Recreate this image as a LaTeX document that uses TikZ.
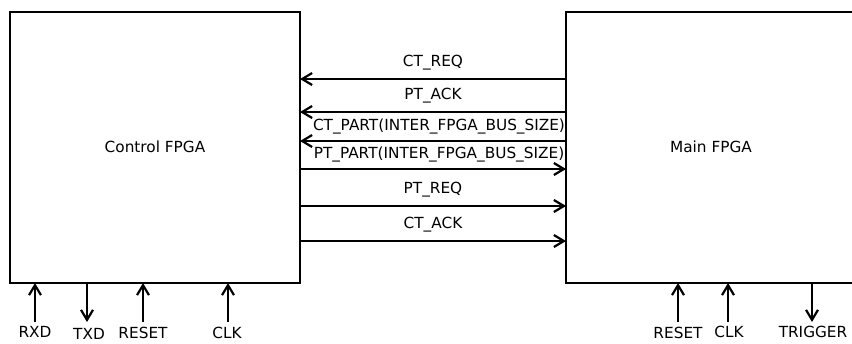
\documentclass[tikz,border=0pt]{standalone}
\usepackage{fontspec}
\setmainfont{DejaVu Sans}
\usetikzlibrary{arrows.meta}
\begin{document}
\begin{tikzpicture}[x=1pt,y=-1pt,
  box/.style={draw,line width=2.2pt},
  sig/.style={line width=2.2pt,-{Straight Barb[length=10pt,width=12pt,line width=2.2pt]}},
  lbl/.style={inner sep=0pt,font=\fontsize{15.3}{17}\selectfont},
]
\useasboundingbox (0,0) rectangle (852,343);
\begin{scope}
\clip (0,0) rectangle (852,343);
% the two FPGA blocks
\draw[box] (10,12) rectangle (300,283);
\draw[box] (566,12) rectangle (900,283);
\node[lbl] (ctrl) at (155,147) {Control FPGA};
\node[lbl] (main) at (711,147) {Main FPGA};
% inter-FPGA signals, end points on the block edges
\foreach \n/\y in {a/79,b/112,c/141,d/169,e/206,f/241}{
  \coordinate (L\n) at (300,\y);
  \coordinate (R\n) at (566,\y);
}
\draw[sig] (Ra) -- (La) node[lbl,midway,above=8pt] {CT\_REQ};
\draw[sig] (Rb) -- (Lb) node[lbl,midway,above=8pt] {PT\_ACK};
\draw[sig] (Rc) -- (Lc) node[lbl,midway,above=6pt,xshift=6pt] {CT\_PART(INTER\_FPGA\_BUS\_SIZE)};
\draw[sig] (Ld) -- (Rd) node[lbl,midway,above=6pt,xshift=6pt] {PT\_PART(INTER\_FPGA\_BUS\_SIZE)};
\draw[sig] (Le) -- (Re) node[lbl,midway,above=8pt] {PT\_REQ};
\draw[sig] (Lf) -- (Rf) node[lbl,midway,above=8pt] {CT\_ACK};
% pins below the FPGA blocks
\foreach \n/\x in {rxd/35,txd/87,rst/143,clk/228,mrst/678,mclk/728,trg/812}{
  \coordinate (T\n) at (\x,283);
  \coordinate (B\n) at (\x,322);
}
\draw[sig] (Brxd) -- (Trxd);
\draw[sig] (Ttxd) -- (Btxd);
\draw[sig] (Brst) -- (Trst);
\draw[sig] (Bclk) -- (Tclk);
\draw[sig] (Bmrst) -- (Tmrst);
\draw[sig] (Bmclk) -- (Tmclk);
\draw[sig] (Ttrg) -- (Btrg);
\node[lbl] (nrxd) at (35,332) {RXD};
\node[lbl] (ntxd) at (89,334) {TXD};
\node[lbl] (nrst) at (143,333) {RESET};
\node[lbl] (nclk) at (227,333) {CLK};
\node[lbl] (nmrst) at (678,333) {RESET};
\node[lbl] (nmclk) at (729,332) {CLK};
\node[lbl] (ntrg) at (813,332) {TRIGGER};
\end{scope}
\end{tikzpicture}
\end{document}
